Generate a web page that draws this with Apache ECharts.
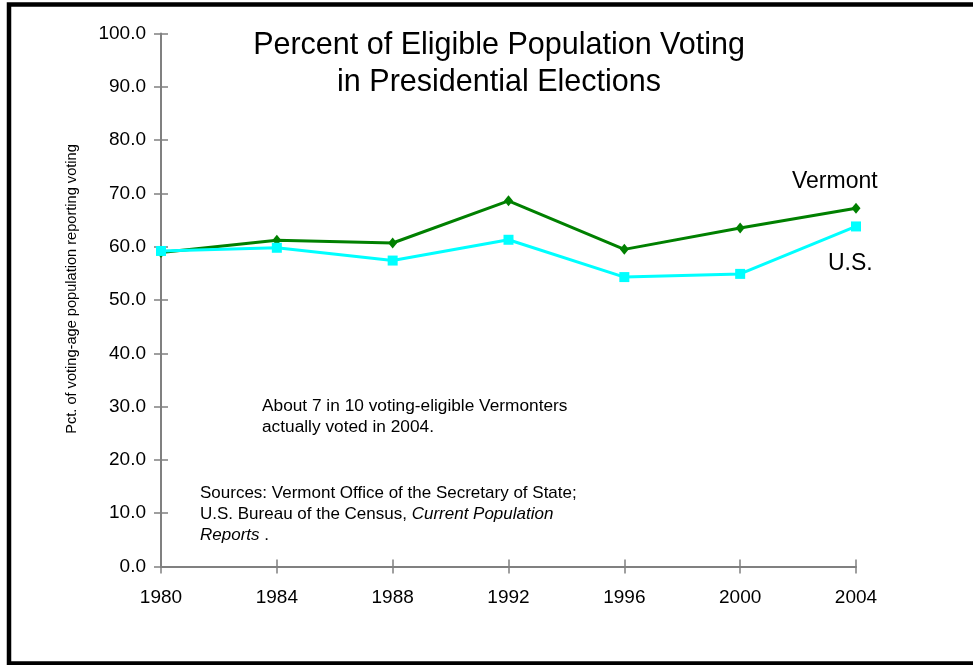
<!DOCTYPE html>
<html>
<head>
<meta charset="utf-8">
<title>Percent of Eligible Population Voting in Presidential Elections</title>
<script src="https://cdn.jsdelivr.net/npm/echarts@6/dist/echarts.min.js"></script>
<style>
  html, body { margin: 0; padding: 0; background: #fff; }
  #chart { width: 973px; height: 665px; }
</style>
</head>
<body>
<div id="chart"></div>
<script>
// Election years and turnout (percent of voting-age population)
var years = [1980, 1984, 1988, 1992, 1996, 2000, 2004];
var vermont = [58.9, 61.2, 60.7, 68.6, 59.5, 63.5, 67.2];
var us = [59.2, 59.8, 57.4, 61.3, 54.3, 54.9, 63.8];
var yTicks = [0, 10, 20, 30, 40, 50, 60, 70, 80, 90, 100];

var FONT = 'Liberation Sans, Arial, sans-serif';

function pairs(values) {
  return years.map(function (y, i) { return [y, values[i]]; });
}

var chart = echarts.init(document.getElementById('chart'), null, { renderer: 'canvas' });

var axisLineStyle = { color: '#808080', width: 2 };
var tickStyle = { color: '#808080', width: 1.5 };

var option = {
  backgroundColor: '#fff',
  animation: false,
  title: {
    text: 'Percent of Eligible Population Voting\nin Presidential Elections',
    left: 494,
    top: 22,
    textAlign: 'center',
    textStyle: { fontFamily: FONT, fontSize: 30.5, fontWeight: 'normal', color: '#000', lineHeight: 37 }
  },
  grid: { left: 161, right: 117, top: 33.5, bottom: 98.5, containLabel: false },
  xAxis: [{
    type: 'value',
    min: years[0],
    max: years[years.length - 1],
    interval: 4,
    axisLine: { show: true, lineStyle: axisLineStyle },
    axisTick: { show: true, inside: false, length: 7, lineStyle: tickStyle },
    axisLabel: { color: '#000', fontFamily: FONT, fontSize: 19, margin: 22, formatter: function (v) { return String(v); } },
    splitLine: { show: false }
  }, {
    type: 'value',
    position: 'bottom',
    min: years[0],
    max: years[years.length - 1],
    interval: 4,
    axisLine: { show: false },
    axisTick: { show: true, inside: true, length: 7, lineStyle: tickStyle },
    axisLabel: { show: false },
    splitLine: { show: false }
  }],
  yAxis: [{
    type: 'value',
    min: yTicks[0],
    max: yTicks[yTicks.length - 1],
    interval: 10,
    axisLine: { show: true, lineStyle: axisLineStyle },
    axisTick: { show: true, inside: false, length: 7, lineStyle: tickStyle },
    axisLabel: { color: '#000', fontFamily: FONT, fontSize: 19, margin: 15, formatter: function (v) { return v.toFixed(1); } },
    splitLine: { show: false }
  }, {
    type: 'value',
    position: 'left',
    min: yTicks[0],
    max: yTicks[yTicks.length - 1],
    interval: 10,
    axisLine: { show: false },
    axisTick: { show: true, inside: true, length: 7, lineStyle: tickStyle },
    axisLabel: { show: false },
    splitLine: { show: false }
  }],
  series: [{
    name: 'U.S.',
    type: 'line',
    data: pairs(us),
    symbol: 'rect',
    symbolSize: 10,
    lineStyle: { color: '#00FFFF', width: 3 },
    itemStyle: { color: '#00FFFF' },
    z: 3
  }, {
    name: 'Vermont',
    type: 'line',
    data: pairs(vermont),
    symbol: 'diamond',
    symbolSize: [9, 11],
    lineStyle: { color: '#008000', width: 3 },
    itemStyle: { color: '#008000' },
    z: 2
  }],
  graphic: [{
    // outer frame
    type: 'rect',
    shape: { x: 9, y: 4.5, width: 1000, height: 659 },
    style: { fill: 'none', stroke: '#000', lineWidth: 4.5 },
    silent: true
  }, {
    // y-axis title, rotated
    type: 'text',
    x: 72,
    y: 289,
    rotation: Math.PI / 2,
    style: {
      text: 'Pct. of voting-age population reporting voting',
      font: '14.6px ' + FONT,
      fill: '#000',
      align: 'center',
      verticalAlign: 'middle'
    }
  }, {
    type: 'text',
    left: 792,
    top: 170,
    style: { text: 'Vermont', font: '23px ' + FONT, fill: '#000' }
  }, {
    type: 'text',
    left: 828,
    top: 252,
    style: { text: 'U.S.', font: '23px ' + FONT, fill: '#000' }
  }, {
    type: 'text',
    left: 262,
    top: 396,
    style: {
      text: 'About 7 in 10 voting-eligible Vermonters\nactually voted in 2004.',
      font: '17.3px ' + FONT,
      lineHeight: 21,
      fill: '#000'
    }
  }, {
    type: 'text',
    left: 200,
    top: 483,
    style: {
      text: 'Sources: Vermont Office of the Secretary of State;\nU.S. Bureau of the Census, {i|Current Population}\n{i|Reports} .',
      font: '17px ' + FONT,
      lineHeight: 21,
      fill: '#000',
      rich: {
        i: { fontStyle: 'italic', fontFamily: FONT, fontSize: 17, lineHeight: 21, fill: '#000' }
      }
    }
  }]
};

chart.setOption(option);
</script>
</body>
</html>
